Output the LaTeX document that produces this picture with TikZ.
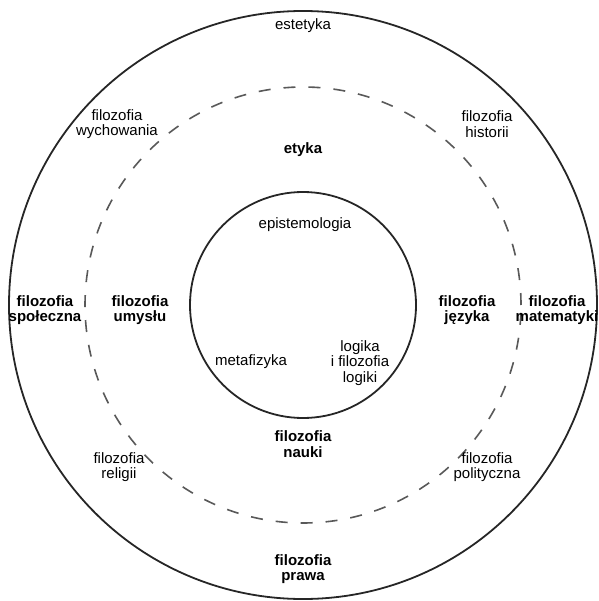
\documentclass[tikz,border=0pt]{standalone}
\usepackage{fontspec}
\setmainfont{Liberation Sans}
\usetikzlibrary{positioning}

\begin{document}
\begin{tikzpicture}[
        x=1pt, y=-1pt,
        every node/.style={align=center, font=\fontsize{15}{15.5}\selectfont, inner sep=0pt},
        main/.style={font=\fontsize{15}{15.5}\selectfont\bfseries},
        ring/.style={line width=1.8pt, black!85},
        dashring/.style={line width=1.6pt, black!65, dash pattern=on 12pt off 13pt}
    ]
      \useasboundingbox (0,0) rectangle (598,601);
      \coordinate (c) at (303,305);

      \draw [ring] (c) circle (294pt);
      \draw [dashring] (c) circle (218pt);
      \draw [ring] (c) circle (113pt);

      % outer ring
      \node (r1) at (303,26) {estetyka};
      \node (r2) at (117,124) {filozofia\\wychowania};
      \node (r3) at (487,124) {filozofia\\historii};
      \node [main] (r4) at (45,310) {filozofia\\społeczna};
      \node [main] (r5) at (557,310) {filozofia\\matematyki};
      \node (r6) at (119,467) {filozofia\\religii};
      \node (r7) at (487,467) {filozofia\\polityczna};
      \node [main] (r8) at (303,569) {filozofia\\prawa};

      % middle ring
      \node [main] (m1) at (303,150) {etyka};
      \node [main] (m2) at (140,310) {filozofia\\umysłu};
      \node [main] (m3) at (467,310) {filozofia\\języka};
      \node [main] (m4) at (303,444) {filozofia\\nauki};

      % inner circle
      \node (i1) at (305,225) {epistemologia};
      \node (i2) at (251,362) {metafizyka};
      \node (i3) at (360,363) {logika\\i filozofia\\logiki};
    \end{tikzpicture}
\end{document}
